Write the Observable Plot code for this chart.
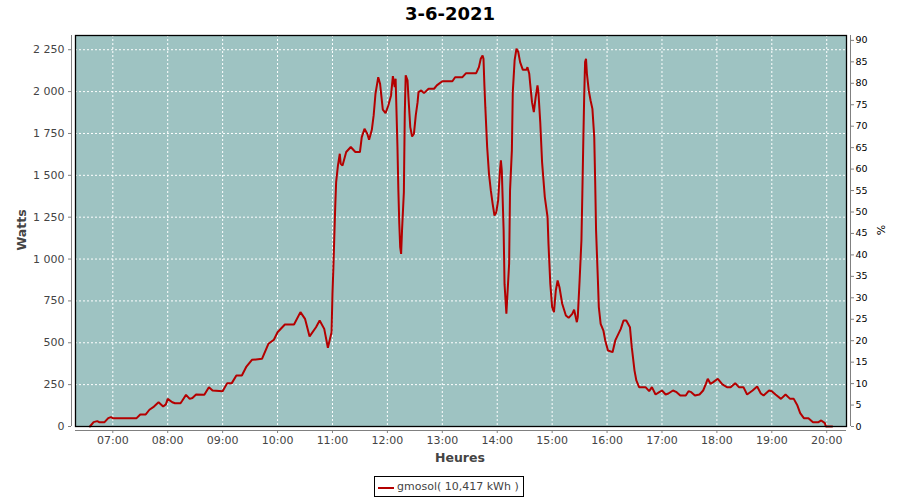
<!DOCTYPE html>
<html>
<head>
<meta charset="utf-8">
<script src="https://cdn.jsdelivr.net/npm/d3@7"></script>
<script src="https://cdn.jsdelivr.net/npm/@observablehq/plot@0.6"></script>
<style>
  body { margin: 0; background: white; font-family: "DejaVu Sans", sans-serif; }
  #wrap { position: relative; width: 900px; height: 500px; overflow: hidden; }
  #wrap svg { position: absolute; left: 0; top: 0; }
  .abs { position: absolute; white-space: nowrap; }
  #title { left: 0; width: 900px; top: 3px; text-align: center; font-weight: bold; font-size: 18px; color: #000; line-height: 22px; }
  #xlabel { left: 0; width: 920px; top: 450px; text-align: center; font-weight: bold; font-size: 12.5px; color: #444; line-height: 16px; }
  #ylabel { left: 21px; top: 230px; transform: translate(-50%, -50%) rotate(-90deg); font-weight: bold; font-size: 12.5px; color: #444; }
  #y2label { left: 881px; top: 230px; transform: translate(-50%, -50%) rotate(-90deg); font-size: 11px; color: #000; }
  #legend { left: 374px; top: 476px; width: 150px; height: 21px; border: 1px solid #000; box-sizing: border-box; font-size: 11px; color: #444; line-height: 19px; }
  #legend .sw { position: absolute; left: 3px; top: 10px; width: 16px; height: 2px; background: #b40000; }
  #legend .tx { position: absolute; left: 22px; top: 0; }
</style>
</head>
<body>
<div id="wrap">
  <div id="title" class="abs">3-6-2021</div>
  <div id="xlabel" class="abs">Heures</div>
  <div id="ylabel" class="abs">Watts</div>
  <div id="y2label" class="abs">%</div>
  <div id="legend" class="abs"><span class="sw"></span><span class="tx">gmosol( 10,417 kWh )</span></div>
</div>
<script>
// ---- data ----
const times = ["06:35","06:39","06:43","06:45","06:51","06:55","06:58","07:00","07:26","07:30","07:36","07:40","07:45","07:50","07:55","07:58","08:00","08:05","08:08","08:14","08:16","08:20","08:24","08:27","08:31","08:40","08:45","08:49","09:00","09:05","09:10","09:15","09:21","09:26","09:32","09:43","09:50","09:56","10:00","10:08","10:18","10:25","10:30","10:35","10:42","10:46","10:51","10:55","10:59","11:00","11:01","11:02","11:03","11:04","11:06","11:08","11:09","11:11","11:15","11:20","11:25","11:30","11:32","11:35","11:38","11:40","11:43","11:45","11:47","11:50","11:52","11:55","11:58","12:01","12:04","12:06","12:08","12:09","12:11","12:12","12:13","12:14","12:15","12:16","12:18","12:19","12:20","12:22","12:23","12:25","12:27","12:29","12:31","12:33","12:34","12:37","12:40","12:45","12:51","12:54","13:00","13:11","13:14","13:22","13:26","13:37","13:40","13:42","13:44","13:45","13:46","13:47","13:49","13:51","13:53","13:55","13:57","13:59","14:01","14:03","14:04","14:05","14:07","14:08","14:10","14:11","14:13","14:14","14:16","14:17","14:19","14:21","14:23","14:25","14:28","14:32","14:33","14:35","14:36","14:38","14:40","14:42","14:44","14:45","14:47","14:49","14:52","14:55","14:56","14:58","15:00","15:02","15:04","15:06","15:08","15:11","15:15","15:18","15:22","15:24","15:27","15:28","15:30","15:32","15:33","15:34","15:35","15:36","15:37","15:38","15:40","15:42","15:44","15:46","15:47","15:48","15:50","15:51","15:53","15:56","15:58","16:01","16:06","16:09","16:15","16:18","16:21","16:25","16:27","16:30","16:32","16:35","16:42","16:46","16:49","16:53","16:57","17:00","17:04","17:07","17:12","17:16","17:20","17:26","17:29","17:32","17:36","17:41","17:45","17:48","17:50","17:53","17:56","18:01","18:06","18:11","18:15","18:20","18:24","18:29","18:33","18:39","18:44","18:48","18:51","18:57","19:00","19:04","19:10","19:15","19:20","19:24","19:28","19:31","19:35","19:40","19:45","19:51","19:54","19:58","19:59","20:06"];
const watts = [0,26,32,26,26,50,56,50,50,72,72,100,119,145,119,132,165,145,139,139,155,189,165,170,191,189,235,215,211,259,259,305,305,358,398,404,494,518,563,609,609,683,643,538,593,633,583,470,563,793,948,1131,1310,1459,1559,1629,1569,1559,1639,1669,1639,1639,1728,1778,1748,1712,1772,1858,1987,2086,2047,1892,1871,1917,1977,2092,2027,2077,1669,1410,1211,1071,1031,1171,1399,1867,2097,2067,1967,1788,1732,1748,1858,1937,1997,2007,1991,2017,2017,2037,2062,2062,2086,2086,2110,2110,2146,2196,2216,2196,2037,1907,1669,1509,1410,1330,1260,1280,1350,1529,1589,1529,1171,850,673,772,972,1410,1649,1997,2186,2256,2236,2176,2130,2130,2146,2106,2047,1937,1877,1967,2037,1997,1818,1579,1370,1250,1091,852,713,683,812,872,832,733,663,649,673,697,623,653,872,1111,1390,1689,1967,2176,2196,2106,2007,1947,1897,1728,1469,1171,872,713,613,573,514,454,444,514,583,633,633,593,474,334,275,235,235,211,235,191,205,215,191,197,215,205,185,185,211,205,185,191,215,255,285,255,265,285,251,235,235,259,235,235,191,215,239,197,185,215,211,191,165,191,165,165,125,80,50,50,26,26,36,20,0,0];
const hourTicks = ["07:00","08:00","09:00","10:00","11:00","12:00","13:00","14:00","15:00","16:00","17:00","18:00","19:00","20:00"];
const wattTicks = [0,250,500,750,1000,1250,1500,1750,2000,2250];
const pctTicks = [0,5,10,15,20,25,30,35,40,45,50,55,60,65,70,75,80,85,90];
const xStart = "06:19:15", xEnd = "20:21:36";
const wattMax = 2335;
const wattsPerPct = 25.62;

// ---- build ----
const pt = d3.utcParse("%H:%M"), pts = d3.utcParse("%H:%M:%S");
const rows = times.map((t, i) => ({t: pt(t), w: watts[i]}));
const hours = hourTicks.map(pt);
const x0 = pts(xStart), x1 = pts(xEnd);
const fmtW = d => d3.format(",")(d).replace(/,/g, "\u00a0");
const grid = {stroke: "white", strokeOpacity: 1, strokeWidth: 1, strokeDasharray: "2,2"};

const chart = Plot.plot({
  width: 900, height: 500,
  marginTop: 35, marginBottom: 74, marginLeft: 75, marginRight: 54,
  style: {fontFamily: "DejaVu Sans", fontSize: "11px", background: "transparent", overflow: "visible"},
  x: {type: "utc", domain: [x0, x1]},
  y: {domain: [0, wattMax]},
  marks: [
    Plot.frame({fill: "#9ec3c2", stroke: null}),
    Plot.gridX(hours, grid),
    Plot.gridY(wattTicks.filter(d => d > 0), grid),
    Plot.line(rows, {x: "t", y: "w", stroke: "#b40000", strokeWidth: 2, strokeLinejoin: "miter"}),
    Plot.frame({stroke: "black", strokeWidth: 1.3}),
    Plot.ruleY([0], {dy: 4, stroke: "#808080"}),
    Plot.ruleX([x0], {dx: -4, stroke: "#808080"}),
    Plot.ruleX([x1], {dx: 4, stroke: "#808080"}),
    Plot.axisX({ticks: hours, anchor: "bottom", dy: 4, tickSize: 3, tickPadding: 3, tickFormat: d3.utcFormat("%H:%M"), label: null, stroke: "#808080", fill: "#444"}),
    Plot.axisY({ticks: wattTicks, anchor: "left", dx: -4, tickSize: 3, tickPadding: 4, tickFormat: fmtW, label: null, stroke: "#808080", fill: "#444"}),
    Plot.axisY({ticks: pctTicks.map(p => p * wattsPerPct), anchor: "right", dx: 4, tickSize: 3, tickPadding: 2, tickFormat: d => String(Math.round(d / wattsPerPct)), label: null, stroke: "#808080", fill: "#000", fontSize: 9.5})
  ]
});
document.getElementById("wrap").prepend(chart);
</script>
</body>
</html>
